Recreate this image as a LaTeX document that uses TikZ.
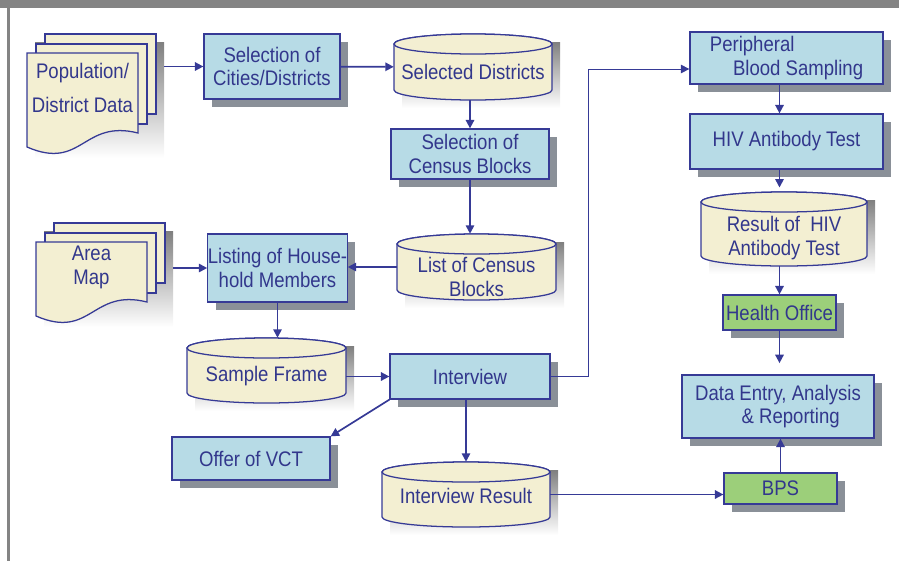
\documentclass[tikz,border=0pt]{standalone}
\usepackage{fontspec}
\setmainfont{Liberation Sans}[FakeStretch=0.88]
\usetikzlibrary{calc,arrows.meta,shadows}

\definecolor{procblue}{HTML}{B7DBE6}
\definecolor{cream}{HTML}{F3EFD2}
\definecolor{officegreen}{HTML}{9CCF7A}
\definecolor{edge}{HTML}{363A96}
\definecolor{ink}{HTML}{32378C}
\definecolor{shade}{HTML}{8A9098}
\definecolor{framegray}{HTML}{848484}

\newcommand{\pxl}{0.025cm}

% stacked documents: name, left, top, width, height, text
\newcommand{\docstack}[6]{%
  \fill[shade] ({#2+8},{#3-11}) rectangle ({#2+#4+26},{#3+#5+25});
  \filldraw[sheet] ({#2+18},{#3-19}) rectangle ({#2+#4+18},{#3+#5-19});
  \filldraw[sheet] ({#2+9},{#3-9}) rectangle ({#2+#4+9},{#3+#5-9});
  \filldraw[sheet] (#2,#3) -- ({#2+#4},#3) -- ({#2+#4},{#3+#5})
    .. controls ({#2+#4/2},{#3+#5-14}) and ({#2+#4/2},{#3+#5+38}) .. (#2,{#3+#5+14}) -- cycle;
  \node[hull, wh={#4+26}{#5+44},
    label={[doctext,xshift=-13*\pxl,yshift=8*\pxl]center:{#6}}] (#1)
    at ({#2+(#4+26)/2},{#3+(#5+6)/2}) {};
}

% data store drum: name, cx, cy, width, height, text drop, text
\newcommand{\drum}[7]{%
  \fill[shade] ({#2-#4/2+8},{#3-#5/2+8}) rectangle ({#2+#4/2+8},{#3+#5/2+8});
  \filldraw[sheet] ({#2-#4/2},{#3-#5/2+10}) -- ({#2-#4/2},{#3+#5/2-10})
    arc[start angle=180,end angle=0,x radius=#4/2,y radius=10]
    -- ({#2+#4/2},{#3-#5/2+10})
    arc[start angle=0,end angle=-180,x radius=#4/2,y radius=10] -- cycle;
  \draw[sheet] (#2,{#3-#5/2+10}) ellipse[x radius=#4/2,y radius=10];
  \node[hull, wh={#4}{#5},
    label={[doctext,yshift=-#6*\pxl]center:{#7}}] (#1) at (#2,#3) {};
}

\begin{document}
\begin{tikzpicture}[
  x=\pxl, y=-\pxl,
  font=\fontsize{15}{17}\selectfont,
  >={Triangle[length=6pt,width=6pt]},   % small filled heads
  wh/.style 2 args={minimum width=(#1)*\pxl, minimum height=(#2)*\pxl},
  box/.style={rectangle, draw=edge, line width=0.9pt, fill=procblue, text=ink,
    align=center, inner sep=0pt,
    drop shadow={shadow xshift=5.7pt, shadow yshift=-5.7pt, fill=shade, opacity=1}},
  office/.style={box, fill=officegreen},
  sheet/.style={draw=edge, line width=0.9pt, fill=cream},
  hull/.style={rectangle, draw=none, inner sep=0pt},
  doctext/.style={text=ink, align=center, inner sep=0pt},
  flow/.style={draw=edge, line width=1.2pt, ->}
]
\useasboundingbox (0,0) rectangle (899,561);

% frame
\fill[framegray] (0,0) rectangle (899,8);
\fill[framegray] (7,8) rectangle (10,561);

% sources and stores
\docstack{pop}{27}{53}{111}{80}{Population/\\[7pt]District Data}
\docstack{area}{36}{242}{111}{60}{Area\\Map}
\drum{districts}{473}{67}{158}{66}{5}{Selected Districts}
\drum{blocklist}{476.5}{267}{159}{66}{10}{List of Census\\Blocks}
\drum{frame}{266.5}{370.5}{159}{65}{6}{Sample Frame}
\drum{result}{466}{494.5}{168}{65}{1}{Interview Result}
\drum{hivres}{784}{229}{166}{74}{9}{Result of\ \ HIV\\Antibody Test}

% process boxes
\node[box, wh={136}{65}]    (cities)    at (272,66.5)   {Selection of\\Cities/Districts};
\node[box, wh={158}{50}]    (blocksel)  at (470,154)    {Selection of\\Census Blocks};
\node[box, wh={137}{68}]    (listing)   at (277.5,268)  {Listing of House-\\hold Members};
\node[box, wh={160}{45}]    (interview) at (470,376.5)  {Interview};
\node[box, wh={158}{43}]    (vct)       at (251,458.5)  {Offer of VCT};
\node[box, wh={193}{52}, align=left] (blood) at (786.5,58) {Peripheral\\\hspace*{1.1em}Blood Sampling};
\node[box, wh={193}{55}]    (hivtest)   at (786.5,141.5){HIV Antibody Test};
\node[office, wh={113}{35}] (healthoff) at (779.5,312.5){Health Office};
\node[box, wh={192}{63}]    (report)    at (778,406.5)  {Data Entry, Analysis\\\hspace*{1.2em}\& Reporting};
\node[office, wh={113}{31}] (bps)       at (780.5,488.5){BPS};

\coordinate (bend) at (588,69);

% connectors
\draw[flow] (pop.east |- cities.west) -- (cities.west);
\draw[flow] (cities) -- (districts);
\draw[flow] (blocksel.north |- districts.south) -- (blocksel.north);
\draw[flow] (blocksel.south) -- (blocksel.south |- blocklist.north);
\draw[flow] (blocklist.west) -- (blocklist.west -| listing.east);
\draw[flow] (area.east |- listing.west) -- (listing.west);
\draw[flow] (listing.south) -- (listing.south |- frame.north);
\draw[flow] (frame.east |- interview.west) -- (interview.west);
\draw[flow] (interview.south west) -- (vct.north east);
\draw[flow] (interview.south -| result.north) -- (result.north);
\draw[flow] (result.east) -- (result.east -| bps.west);
\draw[flow] (bps.north) -- (bps.north |- report.south);
\draw[flow, line width=0.7pt] (interview.east) -| (bend) -- (bend -| blood.west);
\draw[flow] (blood.south -| healthoff.north) -- (healthoff.north |- hivtest.north);
\draw[flow, shorten >=3pt] (hivtest.south -| healthoff.north) -- (healthoff.north |- hivres.north);
\draw[flow] (healthoff.north |- hivres.south) -- (healthoff.north);
\draw[flow, shorten >=8pt] (healthoff.south) -- (healthoff.south |- report.north);
\end{tikzpicture}
\end{document}
